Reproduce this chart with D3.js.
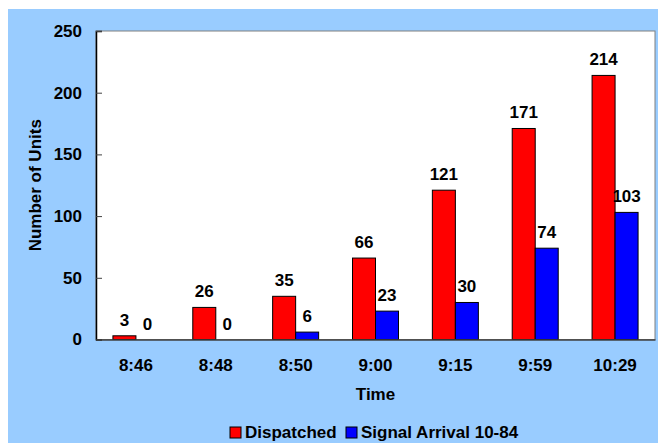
<!DOCTYPE html>
<html><head><meta charset="utf-8">
<script src="https://cdn.jsdelivr.net/npm/d3@7/dist/d3.min.js"></script>
<style>html,body{margin:0;padding:0;background:#fff;}svg{display:block;}</style>
</head><body>
<script>
const categories = ["8:46","8:48","8:50","9:00","9:15","9:59","10:29"];
const dispatched = [3,26,35,66,121,171,214];
const signalArrival = [0,0,6,23,30,74,103];
const seriesNames = ["Dispatched","Signal Arrival 10-84"];
const seriesColors = ["#FF0000","#0000FF"];
const yTicks = [0,50,100,150,200,250];

const W = 658, H = 443;
const svg = d3.select("body").append("svg").attr("width", W).attr("height", H);
const font = "'Liberation Sans', Arial, sans-serif";
const fs = "17px";

svg.append("rect").attr("x",8).attr("y",9).attr("width",W-8).attr("height",H-9).attr("fill","#99CCFF");

const m = {left:96, right:655, top:31, bottom:339.5};
const x = d3.scaleBand().domain(categories).range([m.left, m.right]);
const y = d3.scaleLinear().domain([0,250]).range([m.bottom, m.top]);

svg.append("rect").attr("x",m.left).attr("y",m.top).attr("width",m.right-m.left).attr("height",m.bottom-m.top)
  .attr("fill","#fff").attr("stroke","#808080").attr("stroke-width",1);

const barW = 23;
const data = [dispatched, signalArrival];
data.forEach((vals, si) => {
  const g = svg.append("g");
  g.selectAll("rect").data(vals).enter().append("rect")
    .attr("x",(d,i)=> x(categories[i]) + x.bandwidth()/2 + (si===0 ? -barW : 0))
    .attr("y",d=>y(d))
    .attr("width",barW)
    .attr("height",d=>m.bottom - y(d))
    .attr("fill",seriesColors[si]).attr("stroke","#000").attr("stroke-width",1);
  g.selectAll("text").data(vals).enter().append("text")
    .attr("x",(d,i)=> x(categories[i]) + x.bandwidth()/2 + (si===0 ? -barW/2 : barW/2))
    .attr("y",d=>y(d) - 10)
    .attr("text-anchor","middle")
    .attr("font-family",font).attr("font-weight","bold").attr("font-size",fs)
    .text(d=>d);
});

// y axis
const yAxis = d3.axisLeft(y).tickValues(yTicks).tickSize(-6).tickPadding(14);
const ya = svg.append("g").attr("transform",`translate(${m.left},0)`).call(yAxis);
ya.select(".domain").attr("stroke","#000").attr("stroke-width",1.5);
ya.selectAll(".tick line").attr("stroke","#404040");
ya.selectAll("text").attr("font-family",font).attr("font-weight","bold").attr("font-size",fs).attr("fill","#000");

// x axis
const xAxis = d3.axisBottom(x).tickSize(0).tickPadding(19);
const xa = svg.append("g").attr("transform",`translate(0,${m.bottom})`).call(xAxis);
xa.select(".domain").attr("stroke","#404040").attr("stroke-width",1.5);
xa.selectAll("text").attr("font-family",font).attr("font-weight","bold").attr("font-size",fs).attr("fill","#000");

svg.append("text").attr("x",(m.left+m.right)/2).attr("y",400)
  .attr("text-anchor","middle").attr("font-family",font).attr("font-weight","bold").attr("font-size",fs).text("Time");

svg.append("text").attr("transform",`translate(41,${(m.top+m.bottom)/2}) rotate(-90)`)
  .attr("text-anchor","middle").attr("font-family",font).attr("font-weight","bold").attr("font-size",fs).text("Number of Units");

// legend
const leg = svg.append("g");
const legX = [230, 346];
seriesNames.forEach((n,i)=>{
  leg.append("rect").attr("x",legX[i]).attr("y",427).attr("width",11).attr("height",11)
    .attr("fill",seriesColors[i]).attr("stroke","#000").attr("stroke-width",1);
  leg.append("text").attr("x",legX[i]+15).attr("y",438)
    .attr("font-family",font).attr("font-weight","bold").attr("font-size",fs).text(n);
});
</script>
</body></html>
